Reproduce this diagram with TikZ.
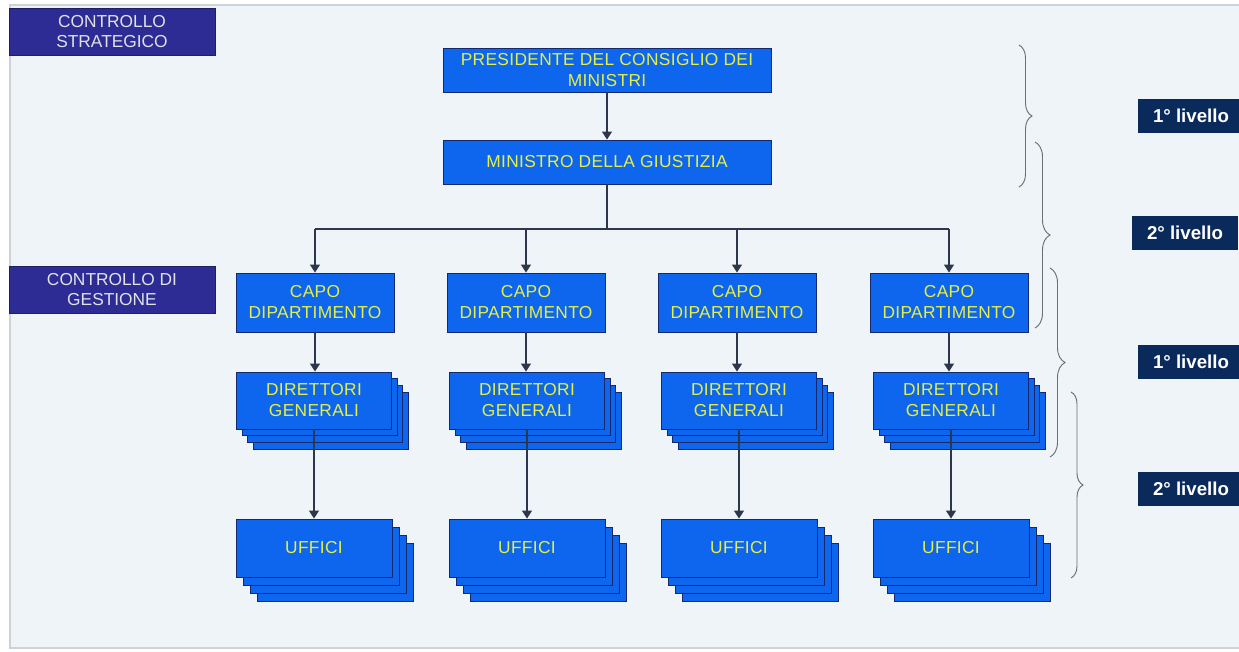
\documentclass[tikz,border=0pt]{standalone}
\usepackage{fontspec}
\setmainfont{Liberation Sans}
\newfontfamily\unitfont[LetterSpace=2]{Liberation Sans}
\usetikzlibrary{arrows.meta,decorations.pathreplacing}

\definecolor{panelbg}{RGB}{238,244,248}
\definecolor{panelframe}{RGB}{205,210,215}
\definecolor{unitblue}{RGB}{14,102,238}
\definecolor{unitedge}{RGB}{20,40,110}
\definecolor{unittext}{RGB}{228,240,70}
\definecolor{ctrlfill}{RGB}{44,44,148}
\definecolor{ctrltext}{RGB}{225,225,230}
\definecolor{levelfill}{RGB}{10,42,92}
\definecolor{linkcol}{RGB}{45,55,75}
\definecolor{bracecol}{RGB}{110,110,115}

\begin{document}
\begin{tikzpicture}[x=0.75pt,y=-0.75pt,
  size/.style 2 args={minimum width={#1*0.75pt}, minimum height={#2*0.75pt}},
  unitbox/.style={rectangle, draw=unitedge, line width=0.7pt, fill=unitblue,
    text=unittext, align=center, inner sep=0pt,
    font=\unitfont\fontsize{13}{15.75}\selectfont},
  ctrlbox/.style={rectangle, draw=ctrlfill!70!black, line width=0.6pt, fill=ctrlfill,
    text=ctrltext, align=center, inner sep=0pt, size={206}{47},
    font=\fontsize{13}{15}\selectfont},
  levelbox/.style={rectangle, fill=levelfill, text=white, inner sep=0pt,
    size={106}{34}, font=\bfseries\fontsize{14}{16}\selectfont},
  link/.style={draw=linkcol, line width=0.9pt},
  conn/.style={link, -{Triangle[length=6pt,width=7.5pt]}},
  bracket/.style={draw=bracecol, line width=0.7pt, decorate,
    decoration={brace, amplitude=#1*0.75pt}}
]
\useasboundingbox (0,0) rectangle (1239,651);
\fill[white] (0,0) rectangle (1239,651);
\draw[panelframe, fill=panelbg, line width=0.8pt] (10,5) rectangle (1260,648);

% control areas
\node[ctrlbox] (strat) at (112,31.5) {CONTROLLO\\STRATEGICO};
\node[ctrlbox] (gest) at (112,290) {CONTROLLO DI\\GESTIONE};

% top of the hierarchy
\node[unitbox, size={328}{44}] (pres) at (607,70) {PRESIDENTE DEL CONSIGLIO DEI\\MINISTRI};
\node[unitbox, size={328}{44}] (min) at (607,162) {MINISTRO DELLA GIUSTIZIA};
\draw[conn] (pres.south) -- (min.north);

\coordinate (bus) at (607,229);
\draw[link] (min.south) -- (bus);

% departments, general directorates and offices
\foreach \i/\cx/\sx in {1/315/314, 2/526/527, 3/737/739, 4/949/951}{
  \node[unitbox, size={158}{59}] (cd\i) at (\cx,302.5) {CAPO\\DIPARTIMENTO};
  \foreach \k in {3,2,1}
    \node[unitbox, size={155}{57}] (dg\i-\k) at ({\sx+\k*5.5},{400.5+\k*6.7}) {};
  \node[unitbox, size={155}{57}] (dg\i) at (\sx,400.5) {DIRETTORI\\GENERALI};
  \foreach \k in {3,2,1}
    \node[unitbox, size={156}{58}] (uf\i-\k) at ({\sx+\k*7},{548+\k*8.3}) {};
  \node[unitbox, size={156}{58}] (uf\i) at (\sx,548) {UFFICI};
  \draw[conn] (bus -| cd\i.north) -- (cd\i.north);
  \draw[conn] (cd\i.south) -- (cd\i.south |- dg\i.north);
  \draw[conn] (dg\i.south) -- (uf\i.north);
}
\draw[link] (bus -| cd1.north) -- (bus -| cd4.north);

% levels of control
\draw[bracket=13] (1019,45) -- (1019,187);
\draw[bracket=15] (1035,142) -- (1035,328);
\draw[bracket=15] (1050,268) -- (1050,457);
\draw[bracket=12] (1071,392) -- (1071,578);

\node[levelbox] (lv1) at (1191,116) {1° livello};
\node[levelbox] (lv2) at (1185,232.5) {2° livello};
\node[levelbox] (lv3) at (1191,361.5) {1° livello};
\node[levelbox] (lv4) at (1191,489) {2° livello};
\end{tikzpicture}
\end{document}
